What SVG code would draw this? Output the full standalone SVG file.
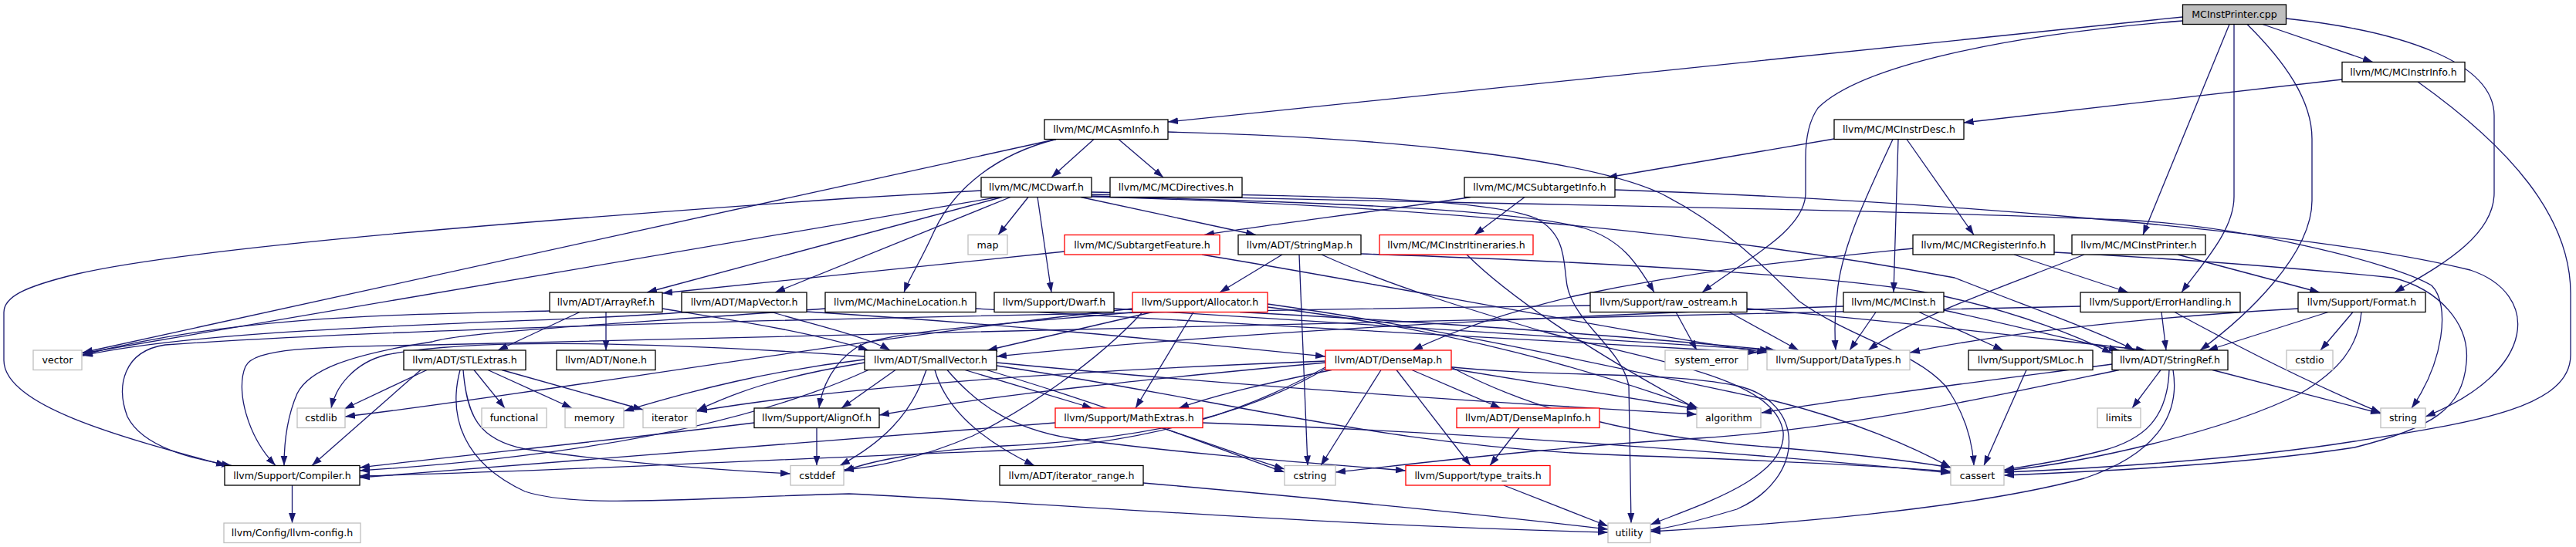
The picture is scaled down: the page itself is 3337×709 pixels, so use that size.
<svg xmlns="http://www.w3.org/2000/svg" width="3337" height="709" viewBox="0 0 3337 709">
<style>
.n rect{fill:#fff;stroke:#000;stroke-width:1.3}
.g rect{stroke:#bfbfbf}
.r rect{stroke:#ff0000}
text{font-family:"DejaVu Sans",sans-serif;font-size:12.6px;text-anchor:middle;fill:#000}
.e path{fill:none;stroke:#191970;stroke-width:1.3;marker-end:url(#a)}
</style>
<defs>
<marker id="a" markerUnits="userSpaceOnUse" markerWidth="14" markerHeight="10" refX="13" refY="5" orient="auto"><path d="M0,0.5 L13,5 L0,9.5 z" fill="#191970"/></marker>
</defs>
<rect width="3337" height="709" fill="#fff"/>
<g id="edges" class="e">
<path d="M2931,31.5 L3074,80.5"/>
<path d="M2827.5,22 L1513,158"/>
<path d="M2827.5,27 C2600,45 2410,85 2355,140 C2341,160 2339,185 2339,205 L2339,250 C2339,300 2255,340 2205,379"/>
<path d="M2888,31.5 L2776,304.5"/>
<path d="M2894,31.5 L2894,255 C2894,300 2850,345 2826,379"/>
<path d="M2911,31.5 C2960,80 2995,130 2995,180 L2995,260 C2995,330 2910,410 2850,454"/>
<path d="M2961.5,24 C3110,40 3231,80 3231,150 L3231,250 C3231,310 3150,350 3102,379"/>
<path d="M3034,103 L2543.6,159"/>
<path d="M3132,106 C3250,190 3330,280 3330,380 L3330,460 C3330,530 3200,548 3050,572 C2900,596 2700,608 2596,612"/>
<path d="M1417,180.5 L1362,230"/>
<path d="M1449,180.5 L1507,230"/>
<path d="M1368,180.5 C1290,200 1235,245 1210,300 C1192,340 1178,360 1171,379"/>
<path d="M1513,171 C1800,178 2050,205 2150,250 C2230,290 2280,340 2330,390 C2400,440 2480,455 2520,500 C2545,535 2555,570 2557,603.5"/>
<path d="M1368,180.5 L107,457"/>
<path d="M2459,180.5 L2453,379"/>
<path d="M2470,180.5 L2557,304.5"/>
<path d="M2376,180 L2082,230"/>
<path d="M2452,180.5 C2420,250 2385,320 2380,380 C2376,410 2377,440 2378,454"/>
<path d="M1298,255.5 L838,379"/>
<path d="M1309,255.5 L1004,379"/>
<path d="M1271,247 L1100,257 C700,285 250,320 100,355 C30,372 5,385 5,405 L5,467 C5,525 150,565 293,603.5"/>
<path d="M1293,255.5 L107,458"/>
<path d="M1332,255.5 L1293,304.5"/>
<path d="M1344,255.5 L1362,379"/>
<path d="M1400,255.5 L1627,304.5"/>
<path d="M1414,252 C1800,262 2400,270 2750,285 C2900,292 3100,340 3150,370 C3175,395 3165,470 3124,529"/>
<path d="M1414,249 C1700,254 1920,255 1990,283 C2030,305 2025,340 2030,370 C2040,420 2100,450 2110,500 L2113,678"/>
<path d="M1414,254 C1700,262 1950,270 2050,295 C2100,310 2120,340 2143,379"/>
<path d="M1414,255 C1800,265 2200,298 2532,360 C2620,395 2720,430 2765,454"/>
<path d="M1975,255.5 L1910,304.5"/>
<path d="M1905,255.5 C1800,272 1650,290 1560,304.5"/>
<path d="M2092,246 C2500,260 3000,300 3200,350 C3290,380 3290,480 3142,540"/>
<path d="M1379,326 L858,380"/>
<path d="M1557,330 C1800,370 2100,430 2289,457"/>
<path d="M1763,329 C2100,340 2400,360 2500,380 C2620,405 2700,440 2736,458"/>
<path d="M1661,330 L1580,379"/>
<path d="M1683,330 L1694,603.5"/>
<path d="M1712,330 C1800,370 1900,400 2000,430 C2150,470 2300,490 2310,560 C2315,620 2200,655 2138,680"/>
<path d="M1900,330 C1950,380 2050,450 2200,531"/>
<path d="M2478,322 C2350,335 2210,348 2043,383 C1950,405 1880,430 1830,454"/>
<path d="M2609,330 L2757,379"/>
<path d="M2661,327 C2720,330 2900,340 3100,360 C3160,375 3200,420 3195,470 C3190,530 3150,555 3050,580 C2900,603 2700,612 2596,616"/>
<path d="M2700,330 C2600,370 2480,410 2420,454"/>
<path d="M2821,330 L3005,379"/>
<path d="M785,404.5 L785,454"/>
<path d="M751,404.5 L645,454"/>
<path d="M858,400 C950,415 1050,430 1125,454"/>
<path d="M712,403 C500,408 300,410 107,460"/>
<path d="M1045,404 C1300,420 1500,440 1717,462"/>
<path d="M1000,404.5 C1050,420 1120,435 1153,454"/>
<path d="M890,404.5 C700,420 300,420 107,461"/>
<path d="M1069,400 C800,420 600,430 560,443 C450,460 400,480 385,510 C372,540 368,570 368,603.5"/>
<path d="M1264,400 C1600,420 2000,440 2276,457"/>
<path d="M1443,400 C1800,420 2100,440 2293,454"/>
<path d="M1493,404.5 L1279,454"/>
<path d="M1546,404.5 L1471,529"/>
<path d="M1470,404.5 C1300,420 1140,430 1110,450 C1080,470 1065,500 1061,529"/>
<path d="M1606,404.5 C1900,420 2150,440 2300,454"/>
<path d="M1642,398 C1900,430 2060,480 2200,529"/>
<path d="M1642,394 C1900,430 2150,490 2300,520 C2400,545 2480,580 2527,606"/>
<path d="M1480,404.5 C1420,470 1330,530 1260,565 C1190,595 1130,606 1093,609"/>
<path d="M1467,400 C1100,440 700,510 447,540"/>
<path d="M2263,400 C2500,420 2650,440 2780,454"/>
<path d="M2060,396 C1400,405 600,420 214,447 C160,455 150,500 165,540 C185,580 250,595 300,603.5"/>
<path d="M2240,404.5 L2330,454"/>
<path d="M2171,404.5 L2198,454"/>
<path d="M2430,404.5 L2396,454"/>
<path d="M2486,404.5 L2595,454"/>
<path d="M2518,402 C2600,420 2680,440 2745,454"/>
<path d="M2388,397 C2000,410 1600,430 1291,462"/>
<path d="M2800,404.5 L2806,454"/>
<path d="M2695,397 C2000,410 1000,440 560,447 C400,449 329,452 318,475 C305,505 320,565 357,603.5"/>
<path d="M2817,404.5 C2900,450 3000,500 3084,535"/>
<path d="M3048,404.5 L3006,454"/>
<path d="M3016,404.5 L2860,454"/>
<path d="M3059,404.5 C3055,450 3030,480 2980,510 C2880,560 2700,600 2596,610"/>
<path d="M2977,400 C2800,410 2600,430 2474,457"/>
<path d="M545,479.5 L404,603.5"/>
<path d="M600,479.5 C605,540 620,570 680,582 C800,600 950,610 1024,614"/>
<path d="M553,479.5 L446,530"/>
<path d="M614,479.5 L654,529"/>
<path d="M632,479.5 L741,529"/>
<path d="M650,479.5 L833,531"/>
<path d="M596,479.5 C580,540 600,600 680,637 C750,660 900,645 1100,640 C1400,655 1700,680 2083,690"/>
<path d="M1160,479.5 L1090,529"/>
<path d="M1125,479.5 C950,560 700,595 466,610"/>
<path d="M1250,479.5 L1415,529"/>
<path d="M1227,479.5 C1270,530 1320,560 1400,570 C1550,590 1700,600 1821,610"/>
<path d="M1291,470 C1600,500 1900,520 2198,537"/>
<path d="M1291,474 C1600,520 1800,580 2100,590 C2300,597 2450,605 2527,611"/>
<path d="M1200,479.5 C1180,540 1140,575 1088,603.5"/>
<path d="M1120,462 C800,440 600,440 500,460 C460,470 435,500 429,529"/>
<path d="M1278,479.5 C1450,530 1600,590 1664,612"/>
<path d="M1120,470 C1000,490 950,510 903,532"/>
<path d="M1120,466 C1000,480 900,505 808,533"/>
<path d="M1211,479.5 C1225,530 1270,570 1340,603.5"/>
<path d="M1829,479.5 L1944,529"/>
<path d="M1717,470 C1500,490 1300,510 1139,538"/>
<path d="M1717,476 C1620,530 1500,575 1300,584 C1000,595 750,610 466,617"/>
<path d="M1725,479.5 C1650,495 1580,510 1527,529"/>
<path d="M1809,479.5 L1905,603.5"/>
<path d="M1880,478 L2198,530"/>
<path d="M1880,476 C2000,540 2150,570 2300,580 C2420,590 2490,600 2527,606"/>
<path d="M1717,478 C1620,535 1500,568 1300,578 C1180,585 1120,600 1093,611"/>
<path d="M1789,479.5 L1711,603.5"/>
<path d="M1717,468 C1400,480 1100,500 903,533"/>
<path d="M1864,474 C2000,490 2150,480 2250,500 C2340,520 2340,620 2250,660 C2200,675 2160,685 2138,687"/>
<path d="M2736,472 C2600,490 2400,515 2282,535"/>
<path d="M2810,479.5 C2808,540 2780,570 2720,585 C2670,598 2620,605 2596,609"/>
<path d="M2745,479.5 C2600,510 2400,555 2200,568 C2000,580 1800,605 1730,612"/>
<path d="M2799,479.5 L2762,529"/>
<path d="M2866,479.5 L3084,536"/>
<path d="M2815,479.5 C2825,540 2790,590 2700,620 C2550,660 2300,680 2138,689"/>
<path d="M2625,479.5 L2570,603.5"/>
<path d="M977,548 C800,570 600,590 466,606"/>
<path d="M1058,554.5 L1058,603.5"/>
<path d="M1367,548 C1000,575 700,600 466,619"/>
<path d="M1504,554.5 C1570,575 1620,595 1664,608"/>
<path d="M1558,548 C1900,560 2300,590 2527,613"/>
<path d="M1968,554.5 L1930,603.5"/>
<path d="M1948,629 L2083,682"/>
<path d="M1481,626 C1700,645 1950,670 2083,686"/>
<path d="M378.5,629 L378.5,678"/>
</g>
<g id="n0" class="n"><rect x="2827.5" y="6" width="134" height="25.5" style="fill:#bfbfbf"/><text x="2894.5" y="23.3">MCInstPrinter.cpp</text></g>
<g id="n1" class="n"><rect x="3034" y="80.5" width="159" height="25.5"/><text x="3113.5" y="97.8">llvm/MC/MCInstrInfo.h</text></g>
<g id="n2" class="n"><rect x="1353" y="155" width="160" height="25.5"/><text x="1433" y="172.3">llvm/MC/MCAsmInfo.h</text></g>
<g id="n3" class="n"><rect x="2376" y="155" width="168" height="25.5"/><text x="2460" y="172.3">llvm/MC/MCInstrDesc.h</text></g>
<g id="n4" class="n"><rect x="1271" y="230" width="143" height="25.5"/><text x="1342.5" y="247.3">llvm/MC/MCDwarf.h</text></g>
<g id="n5" class="n"><rect x="1438" y="230" width="171" height="25.5"/><text x="1523.5" y="247.3">llvm/MC/MCDirectives.h</text></g>
<g id="n6" class="n"><rect x="1897" y="230" width="195" height="25.5"/><text x="1994.5" y="247.3">llvm/MC/MCSubtargetInfo.h</text></g>
<g id="n7" class="n g"><rect x="1254" y="304.5" width="51" height="25.5"/><text x="1279.5" y="321.8">map</text></g>
<g id="n8" class="n r"><rect x="1379" y="304.5" width="201" height="25.5"/><text x="1479.5" y="321.8">llvm/MC/SubtargetFeature.h</text></g>
<g id="n9" class="n"><rect x="1604" y="304.5" width="159" height="25.5"/><text x="1683.5" y="321.8">llvm/ADT/StringMap.h</text></g>
<g id="n10" class="n r"><rect x="1787" y="304.5" width="199" height="25.5"/><text x="1886.5" y="321.8">llvm/MC/MCInstrItineraries.h</text></g>
<g id="n11" class="n"><rect x="2478" y="304.5" width="183" height="25.5"/><text x="2569.5" y="321.8">llvm/MC/MCRegisterInfo.h</text></g>
<g id="n12" class="n"><rect x="2684" y="304.5" width="173" height="25.5"/><text x="2770.5" y="321.8">llvm/MC/MCInstPrinter.h</text></g>
<g id="n13" class="n"><rect x="712" y="379" width="146" height="25.5"/><text x="785" y="396.3">llvm/ADT/ArrayRef.h</text></g>
<g id="n14" class="n"><rect x="883" y="379" width="162" height="25.5"/><text x="964" y="396.3">llvm/ADT/MapVector.h</text></g>
<g id="n15" class="n"><rect x="1069" y="379" width="195" height="25.5"/><text x="1166.5" y="396.3">llvm/MC/MachineLocation.h</text></g>
<g id="n16" class="n"><rect x="1288" y="379" width="155" height="25.5"/><text x="1365.5" y="396.3">llvm/Support/Dwarf.h</text></g>
<g id="n17" class="n r"><rect x="1467" y="379" width="175" height="25.5"/><text x="1554.5" y="396.3">llvm/Support/Allocator.h</text></g>
<g id="n18" class="n"><rect x="2060" y="379" width="203" height="25.5"/><text x="2161.5" y="396.3">llvm/Support/raw_ostream.h</text></g>
<g id="n19" class="n"><rect x="2388" y="379" width="130" height="25.5"/><text x="2453" y="396.3">llvm/MC/MCInst.h</text></g>
<g id="n20" class="n"><rect x="2695" y="379" width="207" height="25.5"/><text x="2798.5" y="396.3">llvm/Support/ErrorHandling.h</text></g>
<g id="n21" class="n"><rect x="2977" y="379" width="165" height="25.5"/><text x="3059.5" y="396.3">llvm/Support/Format.h</text></g>
<g id="n22" class="n g"><rect x="43" y="454" width="63" height="25.5"/><text x="74.5" y="471.3">vector</text></g>
<g id="n23" class="n"><rect x="523" y="454" width="158" height="25.5"/><text x="602" y="471.3">llvm/ADT/STLExtras.h</text></g>
<g id="n24" class="n"><rect x="721" y="454" width="128" height="25.5"/><text x="785" y="471.3">llvm/ADT/None.h</text></g>
<g id="n25" class="n"><rect x="1120" y="454" width="171" height="25.5"/><text x="1205.5" y="471.3">llvm/ADT/SmallVector.h</text></g>
<g id="n26" class="n r"><rect x="1717" y="454" width="163" height="25.5"/><text x="1798.5" y="471.3">llvm/ADT/DenseMap.h</text></g>
<g id="n27" class="n g"><rect x="2157" y="454" width="107" height="25.5"/><text x="2210.5" y="471.3">system_error</text></g>
<g id="n28" class="n g"><rect x="2289" y="454" width="185" height="25.5"/><text x="2381.5" y="471.3">llvm/Support/DataTypes.h</text></g>
<g id="n29" class="n"><rect x="2550" y="454" width="161" height="25.5"/><text x="2630.5" y="471.3">llvm/Support/SMLoc.h</text></g>
<g id="n30" class="n"><rect x="2736" y="454" width="150" height="25.5"/><text x="2811" y="471.3">llvm/ADT/StringRef.h</text></g>
<g id="n31" class="n g"><rect x="2962" y="454" width="60" height="25.5"/><text x="2992" y="471.3">cstdio</text></g>
<g id="n32" class="n g"><rect x="385" y="529" width="62" height="25.5"/><text x="416" y="546.3">cstdlib</text></g>
<g id="n33" class="n g"><rect x="624" y="529" width="84" height="25.5"/><text x="666" y="546.3">functional</text></g>
<g id="n34" class="n g"><rect x="732" y="529" width="76" height="25.5"/><text x="770" y="546.3">memory</text></g>
<g id="n35" class="n g"><rect x="833" y="529" width="69" height="25.5"/><text x="867.5" y="546.3">iterator</text></g>
<g id="n36" class="n"><rect x="977" y="529" width="162" height="25.5"/><text x="1058" y="546.3">llvm/Support/AlignOf.h</text></g>
<g id="n37" class="n r"><rect x="1367" y="529" width="191" height="25.5"/><text x="1462.5" y="546.3">llvm/Support/MathExtras.h</text></g>
<g id="n38" class="n r"><rect x="1887" y="529" width="185" height="25.5"/><text x="1979.5" y="546.3">llvm/ADT/DenseMapInfo.h</text></g>
<g id="n39" class="n g"><rect x="2198" y="529" width="83" height="25.5"/><text x="2239.5" y="546.3">algorithm</text></g>
<g id="n40" class="n g"><rect x="2717" y="529" width="56" height="25.5"/><text x="2745" y="546.3">limits</text></g>
<g id="n41" class="n g"><rect x="3084" y="529" width="58" height="25.5"/><text x="3113" y="546.3">string</text></g>
<g id="n42" class="n"><rect x="291" y="603.5" width="175" height="25.5"/><text x="378.5" y="620.8">llvm/Support/Compiler.h</text></g>
<g id="n43" class="n g"><rect x="1024" y="603.5" width="69" height="25.5"/><text x="1058.5" y="620.8">cstddef</text></g>
<g id="n44" class="n g"><rect x="1664" y="603.5" width="66" height="25.5"/><text x="1697" y="620.8">cstring</text></g>
<g id="n45" class="n r"><rect x="1821" y="603.5" width="187" height="25.5"/><text x="1914.5" y="620.8">llvm/Support/type_traits.h</text></g>
<g id="n46" class="n"><rect x="1295" y="603.5" width="186" height="25.5"/><text x="1388" y="620.8">llvm/ADT/iterator_range.h</text></g>
<g id="n47" class="n g"><rect x="2527" y="603.5" width="69" height="25.5"/><text x="2561.5" y="620.8">cassert</text></g>
<g id="n48" class="n g"><rect x="290" y="678" width="177" height="25.5"/><text x="378.5" y="695.3">llvm/Config/llvm-config.h</text></g>
<g id="n49" class="n g"><rect x="2083" y="678" width="55" height="25.5"/><text x="2110.5" y="695.3">utility</text></g>
</svg>
